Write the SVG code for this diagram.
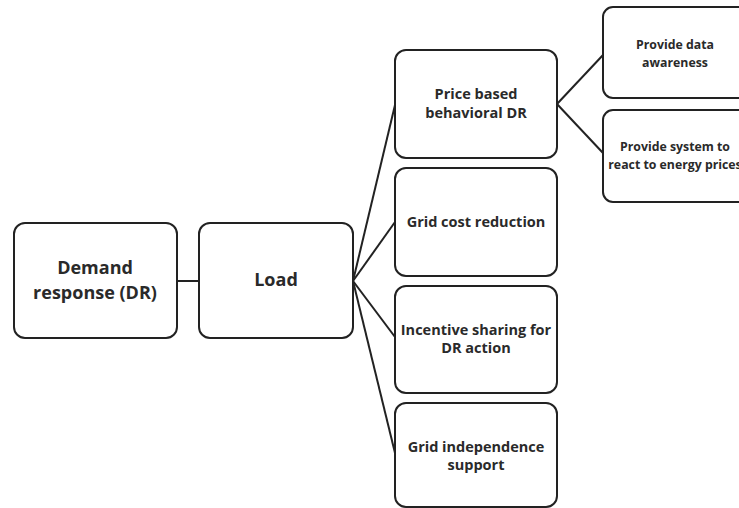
<svg xmlns="http://www.w3.org/2000/svg" width="739" height="508" viewBox="0 0 739 508">
<style>
.box{fill:#ffffff;stroke:#222222;stroke-width:2}
.ln{fill:none;stroke:#222222;stroke-width:2}
text{font-family:"Open Sans","Liberation Sans",sans-serif;font-weight:bold;fill:#2a2a2a;text-anchor:middle}
.big{font-size:18px}
.mid{font-size:14.5px}
.sm{font-size:12.3px}
</style>
<rect width="739" height="508" fill="#ffffff"/>
<g id="connectors">
<line class="ln" x1="177" y1="281" x2="199" y2="281"/>
<line class="ln" x1="353" y1="281" x2="395" y2="105"/>
<line class="ln" x1="353" y1="281" x2="395" y2="222"/>
<line class="ln" x1="353" y1="281" x2="395" y2="337"/>
<line class="ln" x1="353" y1="281" x2="395" y2="453"/>
<line class="ln" x1="557" y1="104" x2="603" y2="55"/>
<line class="ln" x1="557" y1="104" x2="603" y2="153"/>
</g>
<g id="dr">
<rect class="box" x="14" y="223" width="163" height="115" rx="11"/>
<text class="big" x="95" y="274">Demand</text>
<text class="big" x="95" y="299">response (DR)</text>
</g>
<g id="load">
<rect class="box" x="199" y="223" width="154" height="115" rx="11"/>
<text class="big" x="276" y="286">Load</text>
</g>
<g id="price">
<rect class="box" x="395" y="50" width="162" height="108" rx="11"/>
<text class="mid" x="476" y="99">Price based</text>
<text class="mid" x="476" y="118">behavioral DR</text>
</g>
<g id="gridcost">
<rect class="box" x="395" y="168" width="162" height="108" rx="11"/>
<text class="mid" x="476" y="227">Grid cost reduction</text>
</g>
<g id="incentive">
<rect class="box" x="395" y="286" width="162" height="107" rx="11"/>
<text class="mid" x="476" y="335">Incentive sharing for</text>
<text class="mid" x="476" y="353">DR action</text>
</g>
<g id="gridindep">
<rect class="box" x="395" y="403" width="162" height="104" rx="11"/>
<text class="mid" x="476" y="452">Grid independence</text>
<text class="mid" x="476" y="470">support</text>
</g>
<g id="awareness">
<rect class="box" x="603" y="7" width="150" height="91" rx="10"/>
<text class="sm" x="675" y="49">Provide data</text>
<text class="sm" x="675" y="67">awareness</text>
</g>
<g id="react">
<rect class="box" x="603" y="110" width="150" height="92" rx="10"/>
<text class="sm" x="675" y="151">Provide system to</text>
<text class="sm" x="675" y="169">react to energy prices</text>
</g>
</svg>
